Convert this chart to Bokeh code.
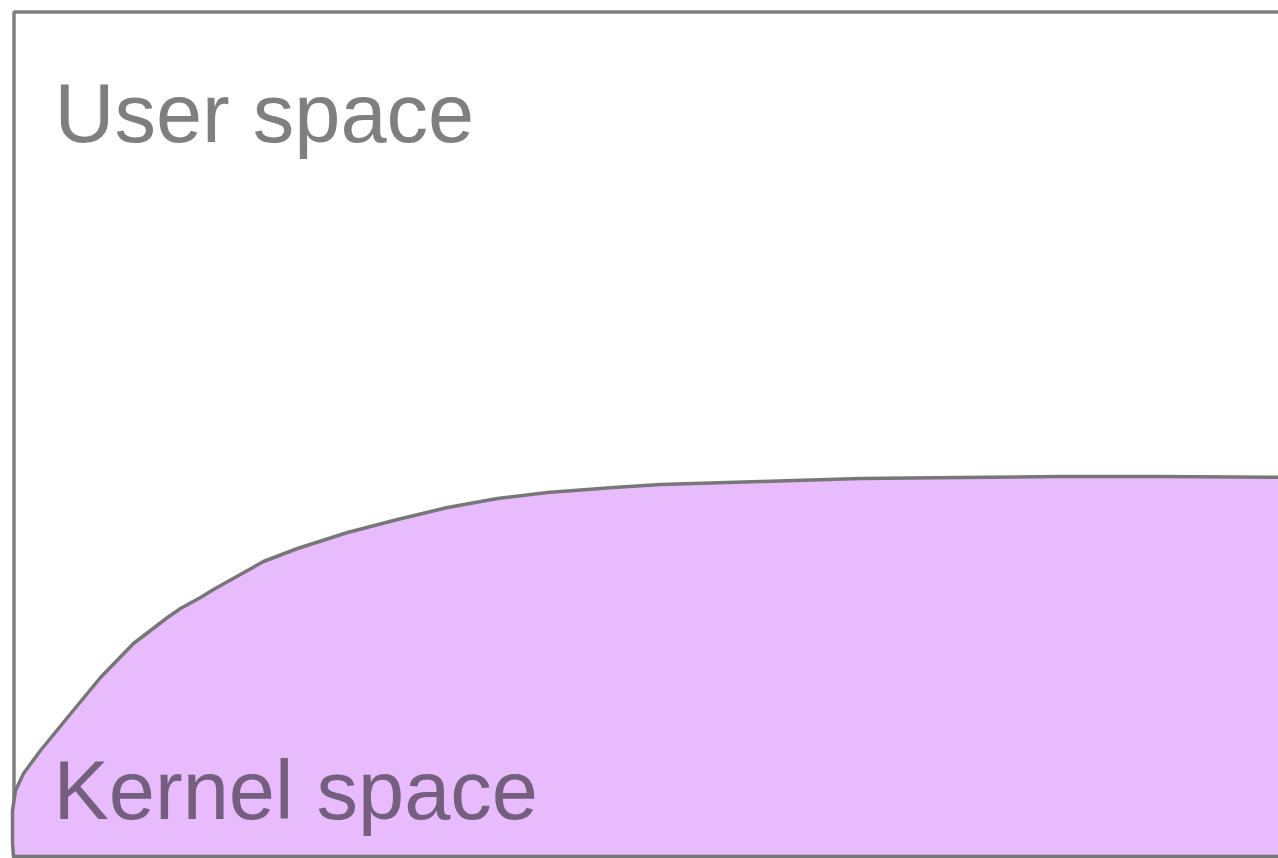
from bokeh.plotting import figure
from bokeh.models import Range1d
from bokeh.embed import file_html
from bokeh.resources import INLINE
from bokeh.core.properties import value

# Frame of the diagram (pixel-like coordinates, y grows downward)
frame_x = [1300, 13.5, 13.5, 1300]
frame_y = [11.5, 11.5, 856, 856]

# Kernel-space boundary curve
kernel_x = [1300, 1160, 1060, 960, 860, 760, 660, 613, 547, 497, 447, 397, 347, 297,
            263, 247, 213, 200, 180, 167, 133, 100, 67, 40, 23, 15, 12, 12, 13, 1300]
kernel_y = [477, 476, 476, 477, 478, 481, 484, 487, 492, 498, 507, 519, 532, 548,
            561, 570, 589, 597, 608, 617, 643, 677, 717, 750, 773, 790, 810, 843, 856, 856]

labels = ["User space", "Kernel space"]
label_x = [54, 53]
label_y = [113, 790]
label_colors = ["#7f7f7f", "#745f7e"]

p = figure(width=1278, height=858, output_backend="svg", toolbar_location=None,
           x_range=Range1d(0, 1278), y_range=Range1d(858, 0),
           min_border=0, background_fill_color="white", border_fill_color="white")
p.xaxis.visible = False
p.yaxis.visible = False
p.grid.visible = False
p.outline_line_color = None

p.line(frame_x, frame_y, line_color="#7f7f7f", line_width=3.5)
p.patch(kernel_x, kernel_y, fill_color="#e8bbfc", line_color="#777777", line_width=3.5,
        line_join="round")

p.text(x=label_x, y=label_y, text=labels, text_color=label_colors,
       text_font=value("Liberation Sans"), text_font_size="83px",
       text_baseline="alphabetic", text_align="left")

open("out.html", "w").write(file_html(p, INLINE))
